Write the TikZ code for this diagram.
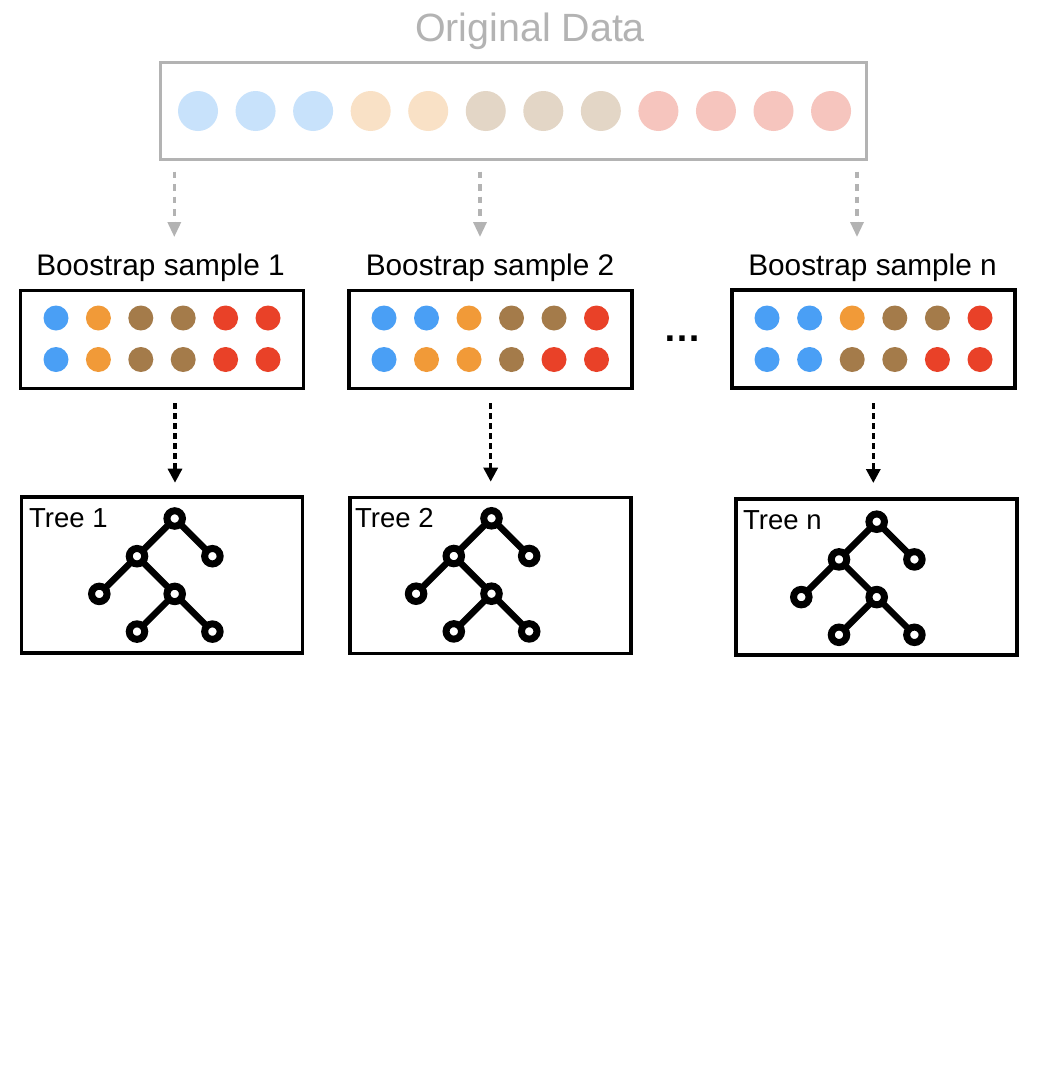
\documentclass[tikz,border=0pt]{standalone}
\usepackage{fontspec}
\setmainfont{Liberation Sans}
\usetikzlibrary{arrows.meta}
\definecolor{ogray}{HTML}{B3B3B3}
\definecolor{lblue}{HTML}{C8E2FB}
\definecolor{lpeach}{HTML}{F9E1C6}
\definecolor{lbeige}{HTML}{E3D6C6}
\definecolor{lpink}{HTML}{F6C5BE}
\definecolor{sblue}{HTML}{4A9FF5}
\definecolor{sorange}{HTML}{F19A38}
\definecolor{sbrown}{HTML}{A47B4A}
\definecolor{sred}{HTML}{E94128}
\begin{document}
\begin{tikzpicture}[x=1pt,y=-1pt,
  dot/.style={circle,inner sep=0pt,minimum size=25pt},
  odot/.style={circle,inner sep=0pt,minimum size=40pt},
  sbox/.style={draw=black,line width=3.5pt,minimum width=283pt,minimum height=98pt,inner sep=0pt},
  tbox/.style={draw=black,line width=3.5pt,minimum width=281pt,minimum height=156pt,inner sep=0pt},
  obox/.style={draw=ogray,line width=3.5pt,minimum width=706pt,minimum height=97pt,inner sep=0pt},
  tnode/.style={circle,draw=black,fill=white,line width=7pt,minimum size=15.5pt,inner sep=0pt},
  tedge/.style={line width=6.5pt},
  garrow/.style={draw=ogray,line width=3.2pt,dash pattern=on 6.5pt off 6pt,-{Triangle[width=13pt,length=15pt]}},
  barrow/.style={draw=black,line width=3.2pt,dash pattern=on 6pt off 4pt,-{Triangle[width=14pt,length=14pt]}},
  lbl/.style={inner sep=0pt,anchor=base,font=\fontsize{29.8}{34}\selectfont},
  tlbl/.style={inner sep=0pt,anchor=base west,font=\fontsize{27.5}{32}\selectfont},
]
\useasboundingbox[fill=white] (0,0) rectangle (1038,1079);

% title and original data
\node[inner sep=0pt,anchor=base,text=ogray,font=\fontsize{39.4}{45}\selectfont] (title) at (530,41) {Original Data};
\node[obox] (orig) at (513.5,111) {};
\foreach \c [count=\i from 0] in {lblue,lblue,lblue,lpeach,lpeach,lbeige,lbeige,lbeige,lpink,lpink,lpink,lpink}
  \node[odot,fill=\c] (o\i) at (198+57.55*\i,111) {};

% gray arrows
\coordinate (g1s) at (174.3,171.7); \coordinate (g1e) at (174.3,237);
\coordinate (g2s) at (480,171.7);   \coordinate (g2e) at (480,237);
\coordinate (g3s) at (857,171.7);   \coordinate (g3e) at (857,237);
\draw[garrow] (g1s) -- (g1e);
\draw[garrow] (g2s) -- (g2e);
\draw[garrow] (g3s) -- (g3e);

% sample labels
\node[lbl] (l1) at (160.5,275) {Boostrap sample 1};
\node[lbl] (l2) at (490,275) {Boostrap sample 2};
\node[lbl] (l3) at (872.5,275) {Boostrap sample n};

% sample boxes
\node[sbox] (s1) at (162,339.5) {};
\node[sbox] (s2) at (490.3,339.3) {};
\node[sbox] (s3) at (873.7,339) {};

\foreach \c [count=\i from 0] in {sblue,sorange,sbrown,sbrown,sred,sred}
  \node[dot,fill=\c] (s1a\i) at (56+42.4*\i,318) {};
\foreach \c [count=\i from 0] in {sblue,sorange,sbrown,sbrown,sred,sred}
  \node[dot,fill=\c] (s1b\i) at (56+42.4*\i,359.5) {};
\foreach \c [count=\i from 0] in {sblue,sblue,sorange,sbrown,sbrown,sred}
  \node[dot,fill=\c] (s2a\i) at (384+42.5*\i,318) {};
\foreach \c [count=\i from 0] in {sblue,sorange,sorange,sbrown,sred,sred}
  \node[dot,fill=\c] (s2b\i) at (384+42.5*\i,359.5) {};
\foreach \c [count=\i from 0] in {sblue,sblue,sorange,sbrown,sbrown,sred}
  \node[dot,fill=\c] (s3a\i) at (767+42.6*\i,318) {};
\foreach \c [count=\i from 0] in {sblue,sblue,sbrown,sbrown,sred,sred}
  \node[dot,fill=\c] (s3b\i) at (767+42.6*\i,359.5) {};

% ellipsis
\node[inner sep=0pt,anchor=base,font=\bfseries\fontsize{38}{40}\selectfont] (dots) at (682,341) {…};

% black arrows
\coordinate (b1s) at (175,403);   \coordinate (b1e) at (175,482.7);
\coordinate (b2s) at (490.7,403); \coordinate (b2e) at (490.7,481.7);
\coordinate (b3s) at (873.3,403); \coordinate (b3e) at (873.3,483);
\draw[barrow] (b1s) -- (b1e);
\draw[barrow] (b2s) -- (b2e);
\draw[barrow] (b3s) -- (b3e);

% tree boxes
\node[tbox] (tb1) at (162,575) {};
\node[tbox] (tb2) at (490.5,575.5) {};
\node[tbox] (tb3) at (876.5,577.2) {};
\node[tlbl] (tl1) at (29,527.3) {Tree 1};
\node[tlbl] (tl2) at (355,527.7) {Tree 2};
\node[tlbl] (tl3) at (743,529) {Tree n};

% trees
\foreach \k/\x/\y in {1/174.7/518.5, 2/491.5/518.3, 3/876.7/521.7}{
  \coordinate (t\k r) at (\x,\y);
  \coordinate (t\k a) at (\x-37.7,\y+37.7);
  \coordinate (t\k b) at (\x+37.7,\y+37.7);
  \coordinate (t\k c) at (\x-75.4,\y+75.4);
  \coordinate (t\k d) at (\x,\y+75.4);
  \coordinate (t\k e) at (\x-37.7,\y+113.1);
  \coordinate (t\k f) at (\x+37.7,\y+113.1);
  \draw[tedge] (t\k r) -- (t\k a) -- (t\k c);
  \draw[tedge] (t\k r) -- (t\k b);
  \draw[tedge] (t\k a) -- (t\k d) -- (t\k e);
  \draw[tedge] (t\k d) -- (t\k f);
  \foreach \p in {r,a,b,c,d,e,f}
    \node[tnode] (tn\k\p) at (t\k\p) {};
}
\end{tikzpicture}
\end{document}
